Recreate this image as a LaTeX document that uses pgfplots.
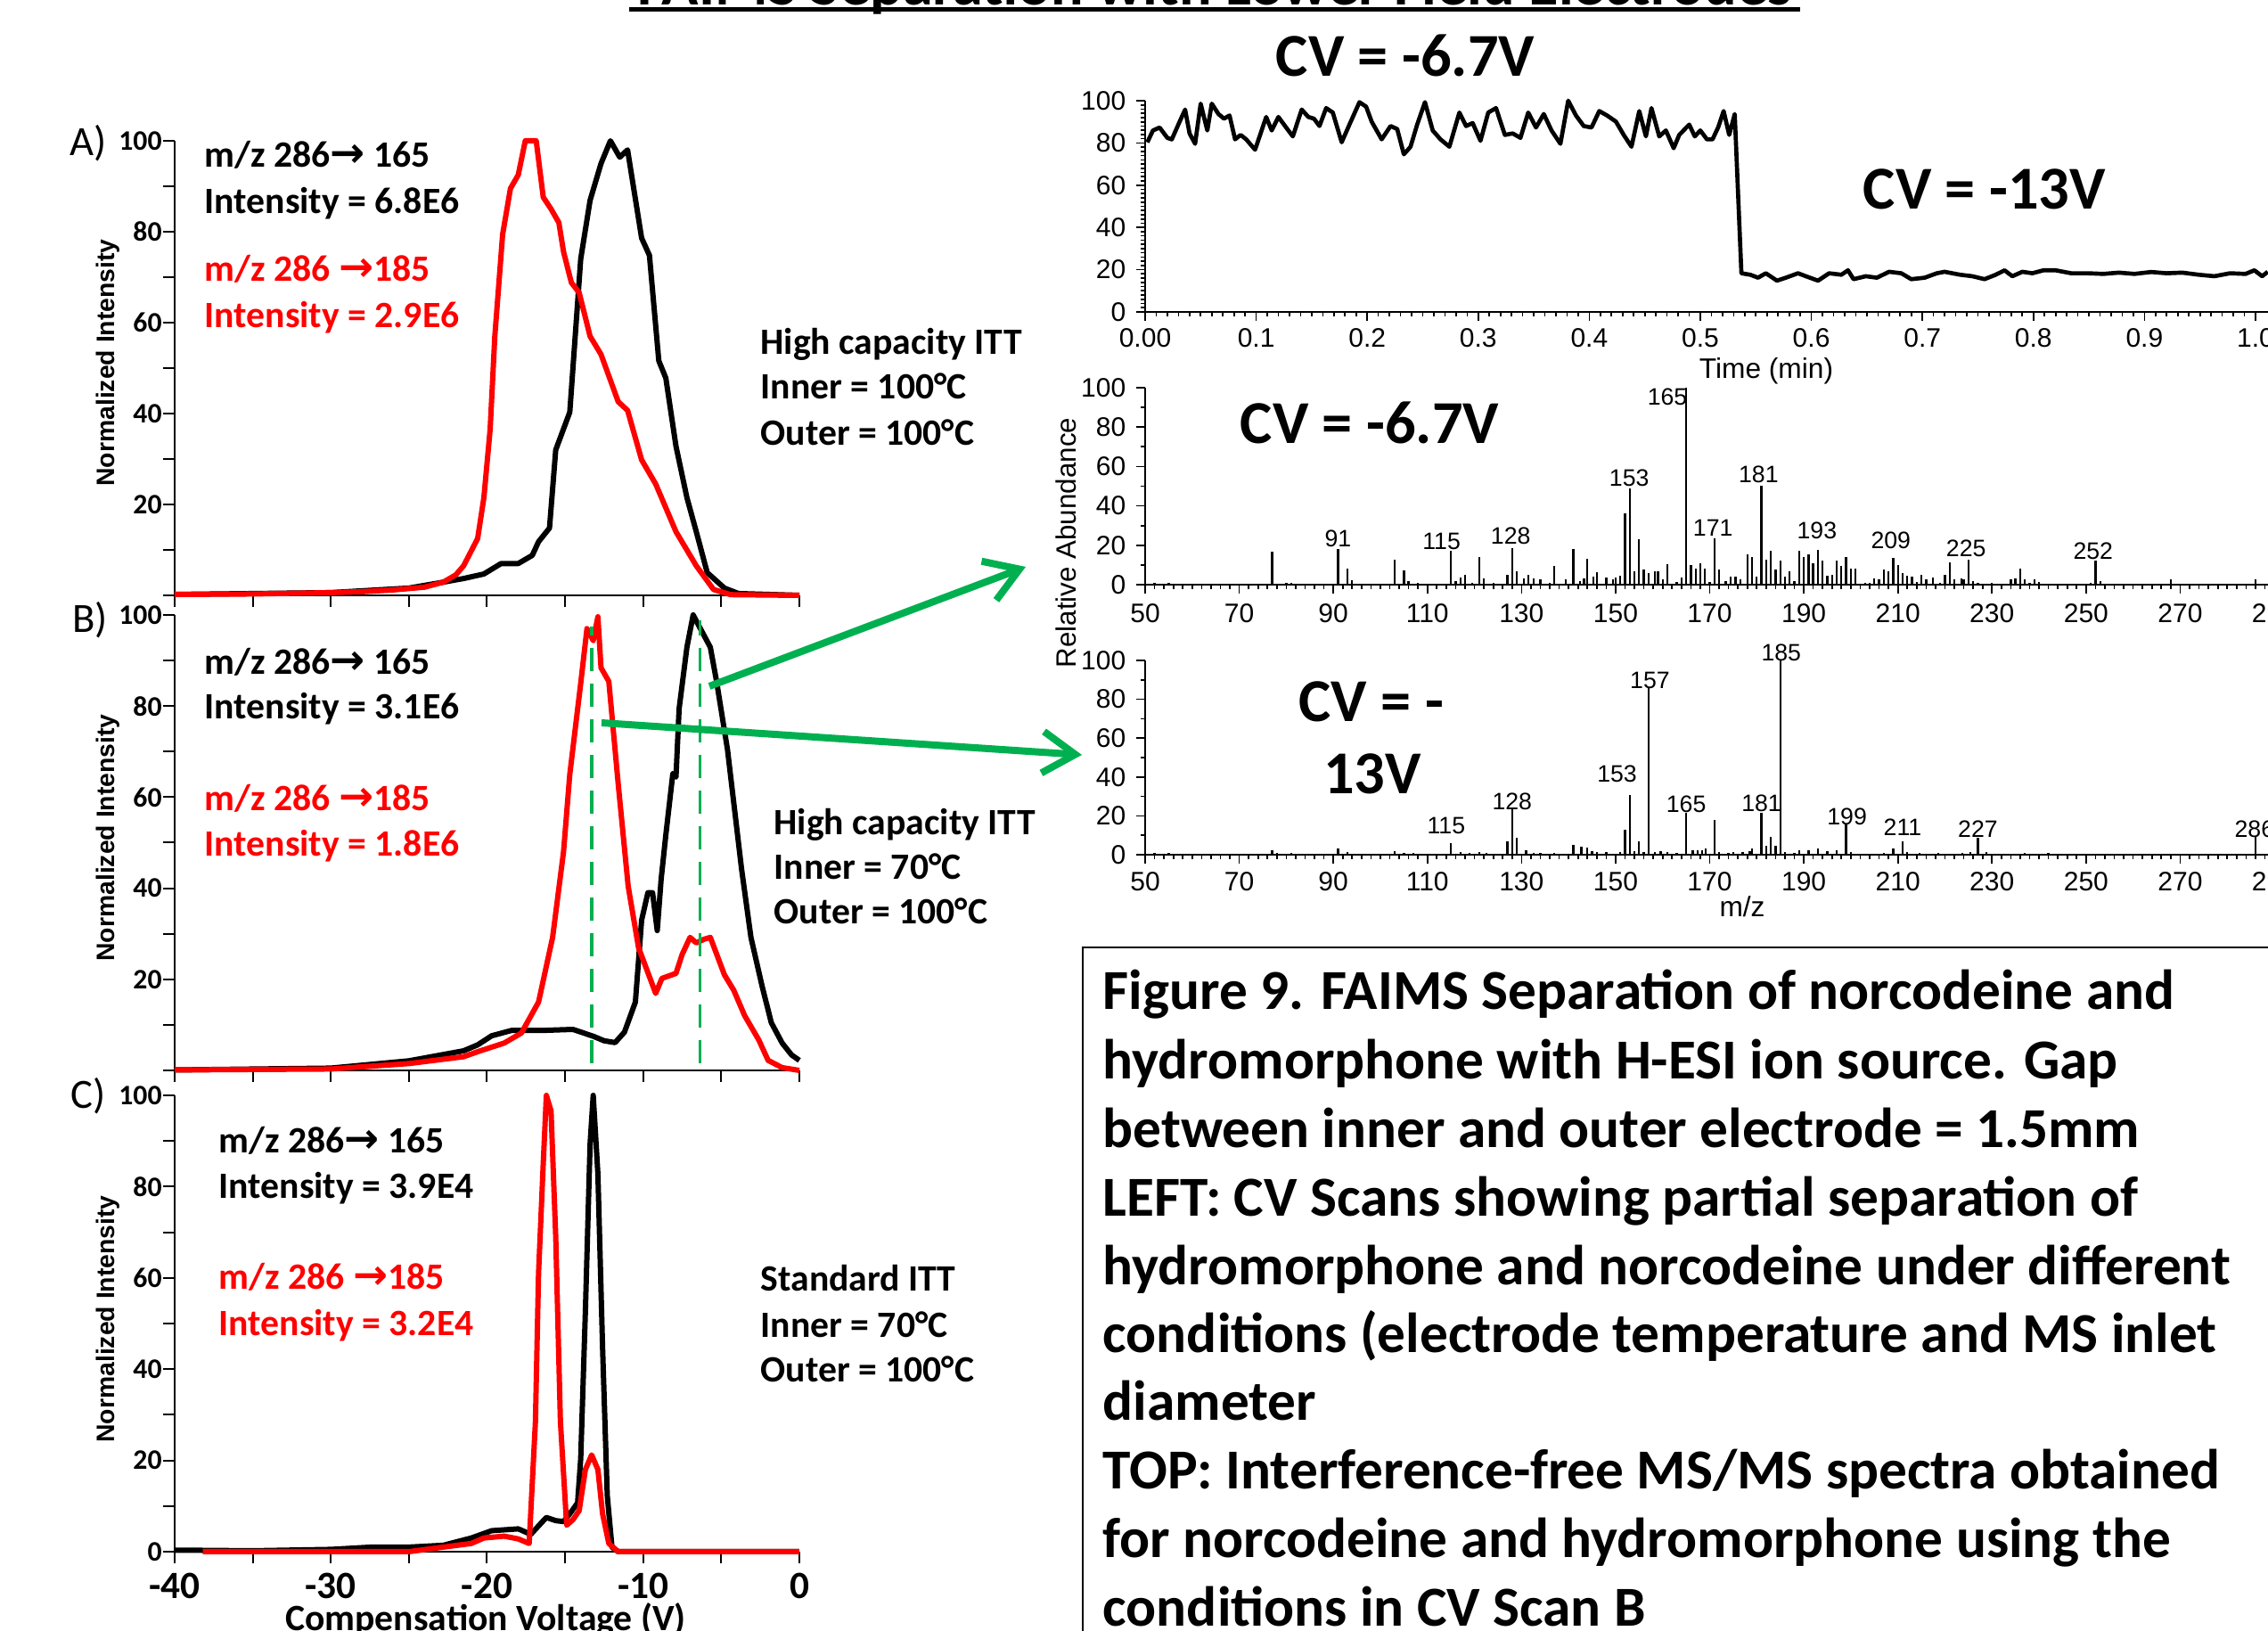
\documentclass[border=0pt]{standalone}
\usepackage{fontspec}
\setmainfont{Carlito}
\newfontfamily\arial{Liberation Sans}
\newfontfamily\djv{DejaVu Sans}
\usepackage{pgfplots}
\pgfplotsset{compat=1.18}
\usetikzlibrary{arrows.meta}
\definecolor{pgreen}{RGB}{0,176,80}
\newcommand{\arr}{{\djv\bfseries\fontsize{14}{15}\selectfont →}}

\tikzset{pk/.style={font=\arial\fontsize{8}{9}\selectfont, inner sep=0pt}}
\pgfplotsset{
  cvpanel/.style={scale only axis, width=210.3pt, xmin=-40, xmax=0, ymin=0, ymax=100,
    enlargelimits=false, axis lines=left, axis line style={-,line width=0.6pt},
    tick align=outside, major tick length=4pt, minor tick length=4pt,
    tick style={black,line width=0.6pt},
    xtick={-40,-30,...,0}, minor xtick={-35,-25,-15,-5},
    ytick={0,20,...,100}, minor ytick={10,30,...,90},
    /pgf/number format/assume math mode=true,
    yticklabel style={font=\bfseries\fontsize{9.5}{11}\selectfont, xshift=3.2pt},
    xticklabel style={font=\bfseries\fontsize{13}{14}\selectfont, yshift=0.4pt},
    clip=false},
  blk/.style={black, line width=1.8pt, line join=round, mark=none},
  rd/.style={red, line width=1.8pt, line join=round, mark=none},
  gdash/.style={pgreen, line width=1pt, dash pattern=on 8pt off 4pt, mark=none},
  rpanel/.style={scale only axis, ymin=0, ymax=100, enlargelimits=false,
    axis lines=left, axis line style={-,line width=0.6pt},
    tick align=outside, major tick length=3pt, minor tick length=1.5pt,
    tick style={black,line width=0.5pt},
    ytick={0,20,...,100},
    /pgf/number format/assume math mode=true,
    ticklabel style={font=\arial\fontsize{9}{10}\selectfont},
    clip=false},
  spec/.style={rpanel, width=380.1pt, xmin=50, xmax=290,
    xtick={50,70,...,290}, minor x tick num=9, minor y tick num=1},
  bars/.style={ycomb, black, line width=0.7pt, mark=none},
}

\begin{document}
\begin{tikzpicture}
\fill[white] (0,0) rectangle (763.5pt,549pt);
\useasboundingbox (0,0) rectangle (763.5pt,549pt);
\clip (0,0) rectangle (763.5pt,549pt);

% ---------- A ----------
\begin{axis}[cvpanel, at={(58.8pt,348.6pt)}, anchor=south west, height=153pt,
  yticklabels={{},20,40,60,80,100}, xticklabels={}]
\addplot[blk] coordinates {
(-40,0.2) (-30,0.6) (-25,1.6) (-22.8,2.9) (-22.0,3.4) (-21.5,3.7) (-20.2,4.7) (-19.1,7)
(-18.0,7) (-17.1,8.8) (-16.7,11.8) (-16.0,14.8) (-15.6,32) (-14.7,40.3) (-14.0,74)
(-13.4,86.9) (-12.7,95) (-12.1,100) (-11.5,96.4) (-11.0,98) (-10.1,78.6) (-9.6,74.8)
(-9.0,51.6) (-8.55,47.8) (-7.9,32.8) (-7.2,21.5) (-6.6,14) (-5.9,5) (-4.8,1.6) (-3.9,0.4) (0,0)};
\addplot[rd] coordinates {
(-40,0.2) (-35,0.3) (-30,0.6) (-28,0.8) (-26,1.2) (-24,1.8) (-22.8,2.9) (-22,4.5)
(-21.5,6.5) (-20.6,12.5) (-20.2,21.5) (-19.8,36.5) (-19.5,57) (-19.0,79.4) (-18.5,89.5)
(-18.0,92.5) (-17.55,100) (-16.85,100) (-16.4,87.6) (-15.9,85) (-15.4,82) (-15.1,75.6)
(-14.6,68.8) (-14.1,66.6) (-13.4,57) (-12.7,53) (-11.6,42.6) (-11.0,40.7) (-10.1,29.8)
(-9.2,24.5) (-7.9,14) (-6.6,6.5) (-5.5,1.3) (-4.4,0.15) (0,0)};
\end{axis}

% ---------- B ----------
\begin{axis}[cvpanel, at={(58.8pt,188.7pt)}, anchor=south west, height=153.3pt,
  yticklabels={{},20,40,60,80,100}, xticklabels={}]
\addplot[blk] coordinates {
(-40,0.1) (-30,0.5) (-25,2.1) (-21.5,4.3) (-20.6,5.6) (-19.7,7.6) (-18.4,8.8) (-16.2,8.8)
(-14.5,9) (-13.2,7.5) (-12.5,6.5) (-11.8,6.1) (-11.2,8.4) (-10.5,15) (-10.1,33) (-9.7,39)
(-9.4,39) (-9.1,30.7) (-8.85,42) (-8.55,51.7) (-8.1,65.2) (-7.9,64.4) (-7.7,79.4) (-7.2,92.9)
(-6.8,100) (-6.4,97.4) (-5.7,92.9) (-5.3,85.4) (-4.6,70.4) (-3.7,44.2) (-3.1,29.2)
(-2.4,18.7) (-1.8,10.5) (-1.1,6) (-0.5,3.4) (0,2.2)};
\addplot[rd] coordinates {
(-40,0.1) (-30,0.3) (-25,1.5) (-21.5,3) (-20.6,4.1) (-18.9,6) (-17.8,8.2) (-16.7,15)
(-15.8,29.2) (-15.1,48) (-14.7,65) (-14.0,85) (-13.6,97) (-13.2,94.4) (-12.9,99.6)
(-12.7,88.4) (-12.2,85.4) (-11.6,62.9) (-10.96,40.4) (-10.3,27) (-9.2,16.9) (-8.8,20.2)
(-7.9,21.3) (-7.5,25.5) (-7.0,29.2) (-6.6,28) (-6.1,28.8) (-5.7,29.2) (-4.8,21) (-4.2,17.6)
(-3.5,12) (-2.6,6.7) (-2.0,2.2) (-1.1,0.6) (0,0)};
\addplot[gdash] coordinates {(-13.3,1.5) (-13.3,97.4)};
\addplot[gdash] coordinates {(-6.36,1.5) (-6.36,98.9)};
\end{axis}

% ---------- C ----------
\begin{axis}[cvpanel, at={(58.8pt,26.7pt)}, anchor=south west, height=153.6pt,
  yticklabels={0,20,40,60,80,100}]
\addplot[blk] coordinates {
(-40,0.3) (-38.5,0.3) (-35,0.2) (-30,0.5) (-27.4,1) (-25,1) (-22.8,1.4) (-21,3) (-19.7,4.6)
(-18,5) (-17.2,3.8) (-16.2,7.5) (-15.6,6.8) (-15.1,6.6) (-14.7,8.3) (-14.2,10.7) (-14.0,20.4)
(-13.7,52.8) (-13.4,89.3) (-13.2,100) (-12.9,82.8) (-12.6,44.7) (-12.3,12.3) (-12.0,1)
(-11.6,0) (0,0)};
\addplot[rd] coordinates {
(-38.2,0) (-25,0) (-22.8,1) (-21,1.8) (-20.2,3) (-18.9,3.4) (-18.0,2.8) (-17.3,1.8)
(-16.9,28.5) (-16.7,61) (-16.4,85) (-16.2,100) (-15.9,96.6) (-15.6,69) (-15.3,28.5)
(-14.9,5.8) (-14.5,7) (-14.1,9) (-13.7,18) (-13.3,21.2) (-12.9,18) (-12.6,8.3) (-12.2,1.8)
(-11.6,0) (0,0)};
\end{axis}

% ---------- time trace ----------
\begin{axis}[rpanel, at={(385.5pt,444pt)}, anchor=south west, width=377.9pt, height=71.1pt,
  xmin=0, xmax=1.011, xtick={0,0.1,0.2,0.3,0.4,0.5,0.6,0.7,0.8,0.9,1.0},
  xticklabels={0.00,0.1,0.2,0.3,0.4,0.5,0.6,0.7,0.8,0.9,1.0},
  minor x tick num=9, minor y tick num=9, xticklabel style={yshift=1.1pt}]
\addplot[black, line width=1.4pt, line join=round, mark=none] coordinates {
(0.002,80.3) (0.007,85.9) (0.013,87.3) (0.020,82.4) (0.024,81.7) (0.031,90) (0.036,95.8)
(0.040,84.5) (0.045,79.6) (0.050,98.6) (0.056,85.9) (0.060,98.6) (0.066,93.7) (0.071,91.5)
(0.076,93) (0.081,81.7) (0.086,83.8) (0.091,81.7) (0.099,76.8) (0.104,84.5) (0.109,92.3)
(0.114,85.9) (0.120,92.3) (0.127,87.3) (0.133,83.1) (0.141,95.8) (0.147,92.3) (0.152,91.5)
(0.157,88) (0.163,96.5) (0.169,94.4) (0.177,80.3) (0.184,88.7) (0.193,99.3) (0.199,97.2)
(0.204,90.1) (0.213,81.7) (0.221,88) (0.227,86.6) (0.233,74.6) (0.239,78.2) (0.245,88.7)
(0.252,99.3) (0.259,85.9) (0.266,81.7) (0.274,78.2) (0.283,94.4) (0.289,88) (0.295,89.4)
(0.302,81) (0.309,94.4) (0.316,96.5) (0.324,83.8) (0.331,84.5) (0.338,82.4) (0.345,94.4)
(0.352,87.3) (0.359,93.7) (0.366,85.9) (0.374,79.6) (0.381,100) (0.388,93) (0.395,88)
(0.402,87.3) (0.409,95.1) (0.416,93) (0.424,90.1) (0.431,83.8) (0.438,78.2) (0.445,95.1)
(0.451,83.1) (0.456,96.5) (0.463,83.1) (0.469,85.9) (0.476,77.5) (0.481,83.8) (0.490,88.7)
(0.495,83.1) (0.500,85.9) (0.506,81.7) (0.511,81.7) (0.516,87.3) (0.521,95.1) (0.526,83.8)
(0.531,93.7) (0.537,18.3) (0.545,17.6) (0.552,16.2) (0.559,18.3) (0.569,14.8) (0.577,16.2)
(0.588,18.3) (0.595,16.9) (0.606,14.8) (0.616,18.3) (0.627,17.6) (0.633,19.7) (0.638,15.5)
(0.649,16.9) (0.659,16.2) (0.670,19) (0.681,18.3) (0.690,15.5) (0.702,16.2) (0.713,18.3)
(0.720,19) (0.734,17.6) (0.745,16.9) (0.756,15.5) (0.766,17.6) (0.774,19.7) (0.781,16.9)
(0.790,19) (0.799,18.3) (0.809,19.7) (0.820,19.7) (0.834,18.3) (0.849,18.3) (0.863,18)
(0.877,18.6) (0.891,18) (0.906,18.9) (0.920,18.3) (0.934,18.6) (0.949,17.6) (0.963,16.9)
(0.977,18.3) (0.991,18) (0.999,19.7) (1.006,16.9) (1.011,19)};
\end{axis}

% ---------- spectrum CV -6.7 ----------
\begin{axis}[spec, at={(385.5pt,352.2pt)}, anchor=south west, height=66.3pt]
\addplot[bars] coordinates {
(52,1) (55,0.8) (58,0.5) (62,0.6) (66,0.5) (70,0.6) (74,0.4) (77,16.6) (80,1) (81,1) (84,0.5)
(88,0.6) (91,18) (93,8) (94,2.4) (97,0.5) (100,0.6) (103,12.5) (105,7.2) (106,2) (108,0.8)
(111,0.6) (115,17) (116,2) (117,3.5) (118,5) (119.5,1) (121,14) (122,3) (124,0.8) (127,5)
(128,18.5) (129,7) (130.5,3) (131.5,5) (132.6,3) (134,2.5) (136,1) (137,9.5) (139.4,2.6)
(141,18) (142.4,2) (143.3,3) (144,13) (145.3,4) (146,6.5) (148,3.5) (149.5,2.5) (150,3.5)
(151,4.5) (152,36) (153,48.8) (154,7) (155,23) (156,7.5) (157,6) (158.4,7) (159,7) (160,2.5)
(161,10.5) (163,1.5) (164,3.5) (165,100) (166,10) (167,8) (168,11) (169,8) (170,1.5)
(171,23.5) (172,7.5) (173.4,2) (174.5,4) (175.5,4) (176.5,2.5) (178,15.5) (179,14) (180,4)
(181,50) (182,12.5) (183,17) (184,7.5) (185,12) (186,4) (187,7) (188,2) (189,17) (190,14)
(191,15.5) (192,11) (193,17.5) (194,12) (195,4.5) (196,5) (197,12) (198,9.5) (199,14)
(200,8) (201,8) (203,1) (204,1) (205,3) (206,2.5) (207,7.5) (208,7) (209,13.5) (210,10)
(211,6) (212,4.5) (213,4) (214,1.5) (215,5) (216,2.5) (217.5,3.5) (219,1) (220,5)
(221,11.5) (222,2.5) (223.5,3) (224,2.5) (225,12.5) (226,2) (227,1) (230,0.8) (232,0.6)
(234,2.5) (235,3) (236,8) (237,2.5) (238,1) (239,2.5) (240,1.5) (242,0.6) (245,0.5)
(248,0.6) (251,1) (252,12) (253,2) (256,0.5) (260,0.6) (264,0.5) (268,2.5) (272,0.5)
(276,0.6) (280,0.5) (286,2.5) (289,0.5)};
\node[pk] at (axis cs:91,23.5) {91};
\node[pk] at (axis cs:113,22) {115};
\node[pk] at (axis cs:127.7,24.6) {128};
\node[pk] at (axis cs:152.9,54) {153};
\node[pk] at (axis cs:161,95.5) {165};
\node[pk] at (axis cs:170.7,29) {171};
\node[pk] at (axis cs:180.4,56) {181};
\node[pk] at (axis cs:192.8,27.6) {193};
\node[pk] at (axis cs:208.5,22.6) {209};
\node[pk] at (axis cs:224.5,18.5) {225};
\node[pk] at (axis cs:251.5,17) {252};
\end{axis}

% ---------- spectrum CV -13 ----------
\begin{axis}[spec, at={(385.5pt,261.3pt)}, anchor=south west, height=65.4pt,
  xticklabel style={yshift=0.8pt}]
\addplot[bars] coordinates {
(52,0.8) (55,1) (58,0.5) (62,0.5) (66,0.6) (70,0.5) (74,0.5) (77,2.5) (78,1) (81,0.8)
(85,0.5) (88,0.5) (91,3) (93,1.5) (96,0.6) (99,0.5) (103,2) (105,1) (107,0.8) (110,0.5)
(115,6) (117,1.5) (119,0.8) (121,1.5) (122.5,1) (125,0.5) (127,7) (128,23.5) (129,8.5)
(131,2.5) (132.6,1) (134,0.8) (137,1) (139,0.5) (141,5) (142.7,4) (144,3.5) (145,2)
(146,1.5) (148,1.5) (151,1.5) (152,13) (153,30.5) (154,2) (155,7) (156,1.5) (157,85.6)
(158.4,1.5) (159.6,2) (161,1.5) (163,0.8) (165,21.5) (166.4,2.5) (167.4,2.5) (168.4,2.5)
(169.2,3) (171,18) (172,1.5) (174,0.8) (175,1.5) (177,1.5) (178.5,2) (179,3) (181,21.5)
(182,4.5) (183,9) (184,4.5) (185,100) (186,1.5) (188,1) (189,2.5) (191,2.5) (193,3)
(195,2) (197,2.5) (199,15.5) (200,1.5) (203,0.6) (207,1) (209,3) (211,7) (212,1.5)
(214.6,1) (216,0.6) (218.6,1) (221,0.6) (223.7,1) (225.4,1.5) (227,8.5) (228.8,1.5)
(231,0.5) (234,0.6) (237,0.8) (240,0.5) (242,0.8) (246,0.4) (252,0.5) (256,0.4) (260,0.4)
(265,0.4) (270,0.4) (275,0.4) (280,0.5) (286,9) (289,0.4)};
\node[pk] at (axis cs:114,15) {115};
\node[pk] at (axis cs:128,27.5) {128};
\node[pk] at (axis cs:150.3,41.7) {153};
\node[pk] at (axis cs:157.3,89.8) {157};
\node[pk] at (axis cs:165,26) {165};
\node[pk] at (axis cs:181,26.4) {181};
\node[pk] at (axis cs:185.2,104) {185};
\node[pk] at (axis cs:199.2,19.5) {199};
\node[pk] at (axis cs:211,14) {211};
\node[pk] at (axis cs:227,13) {227};
\node[pk] at (axis cs:285.8,13) {286};
\end{axis}

% ---------- annotations, in reference pixels ----------
\begin{scope}[x=0.3pt, y=-0.3pt, shift={(0,549pt)}]
% title, cut off by the top edge
\node[anchor=base, font=\bfseries\fontsize{20.5}{24}\selectfont, inner sep=0pt] at (1363,6)
  {FAIMS Separation with Lower Field Electrodes};
\draw[line width=1.3pt] (706,10.5) -- (2020,10.5);

% panel letters and y labels
\node[font=\fontsize{14}{16}\selectfont] at (99,161) {A)};
\node[font=\fontsize{14}{16}\selectfont] at (101,696) {B)};
\node[font=\fontsize{14}{16}\selectfont] at (99,1230) {C)};
\foreach \yy in {407,940,1480}
  \node[rotate=90, font=\arial\bfseries\fontsize{8.5}{10}\selectfont] at (121,\yy) {Normalized Intensity};
\node[anchor=base, font=\bfseries\fontsize{12.5}{14}\selectfont, inner sep=0pt] at (545,1829) {Compensation Voltage (V)};

% panel texts
\begin{scope}[every node/.style={anchor=base west, inner sep=0pt, font=\bfseries\fontsize{12.5}{15}\selectfont}]
\node at (229,188) {m/z 286\arr\ 165};
\node at (229,240) {Intensity = 6.8E6};
\node[red] at (229,316) {m/z 286 \arr185};
\node[red] at (229,368) {Intensity = 2.9E6};
\node at (853,398) {High capacity ITT};
\node at (853,448) {Inner = 100°C};
\node at (853,500) {Outer = 100°C};

\node at (229,757) {m/z 286\arr\ 165};
\node at (229,807) {Intensity = 3.1E6};
\node[red] at (229,910) {m/z 286 \arr185};
\node[red] at (229,960) {Intensity = 1.8E6};
\node at (868,937) {High capacity ITT};
\node at (868,986) {Inner = 70°C};
\node at (868,1036) {Outer = 100°C};

\node at (245,1293) {m/z 286\arr\ 165};
\node at (245,1344) {Intensity = 3.9E4};
\node[red] at (245,1446) {m/z 286 \arr185};
\node[red] at (245,1498) {Intensity = 3.2E4};
\node at (853,1448) {Standard ITT};
\node at (853,1500) {Inner = 70°C};
\node at (853,1550) {Outer = 100°C};
\end{scope}

% right side labels
\begin{scope}[every node/.style={font=\bfseries\fontsize{20.5}{24}\selectfont, inner sep=0pt}]
\node at (1577,62) {CV = -6.7V};
\node at (2227,212) {CV = -13V};
\node at (1537,474) {CV = -6.7V};
\node at (1539,787) {CV = -};
\node at (1540,868) {13V};
\end{scope}
\node[font=\arial\fontsize{9.5}{11}\selectfont] at (1982,416) {Time (min)};
\node[font=\arial\fontsize{9.5}{11}\selectfont] at (1955,1017) {m/z};
\node[rotate=90, font=\arial\fontsize{9.4}{11}\selectfont] at (1196,609) {Relative Abundance};

% green arrows
\draw[pgreen, line width=2.4pt, -{Straight Barb[length=11pt,width=14pt]}] (796,770) -- (1151,636);
\draw[pgreen, line width=2.4pt, -{Straight Barb[length=11pt,width=14pt]}] (675,811) -- (1214,847);

% caption box
\draw[line width=0.6pt] (1215,1900) -- (1215,1063) -- (2600,1063);
\begin{scope}[every node/.style={anchor=base west, inner sep=0pt, font=\bfseries\fontsize{19}{22}\selectfont}]
\node at (1237,1132) {Figure 9. FAIMS Separation of norcodeine and};
\node at (1237,1210) {hydromorphone with H-ESI ion source. Gap};
\node at (1237,1287) {between inner and outer electrode = 1.5mm};
\node at (1237,1364) {LEFT: CV Scans showing partial separation of};
\node at (1237,1441) {hydromorphone and norcodeine under different};
\node at (1237,1517) {conditions (electrode temperature and MS inlet};
\node at (1237,1593) {diameter};
\node at (1237,1670) {TOP: Interference-free MS/MS spectra obtained};
\node at (1237,1747) {for norcodeine and hydromorphone using the};
\node at (1237,1824) {conditions in CV Scan B};
\end{scope}
\end{scope}
\end{tikzpicture}
\end{document}
